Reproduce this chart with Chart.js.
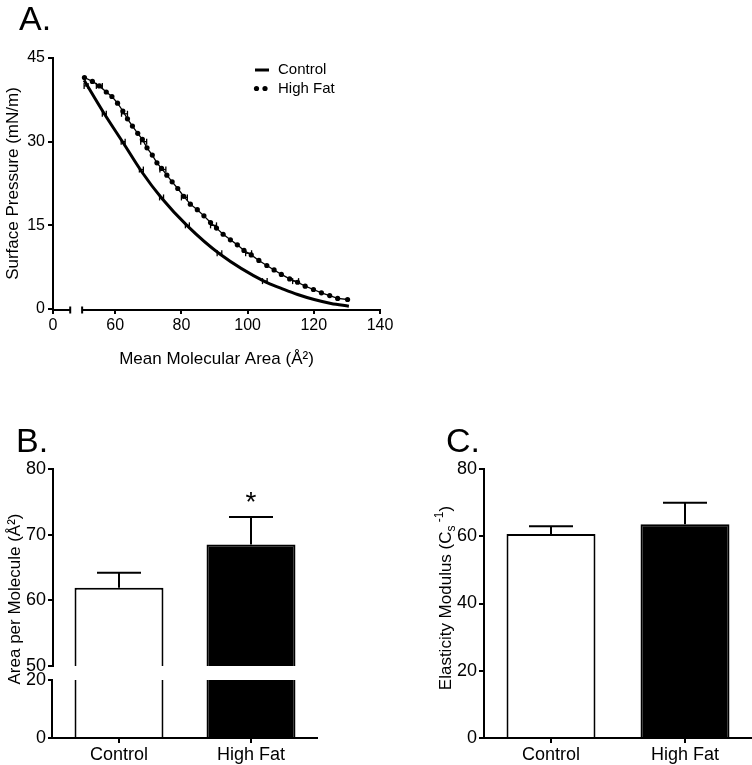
<!DOCTYPE html>
<html>
<head>
<meta charset="utf-8">
<script src="https://cdn.jsdelivr.net/npm/chart.js@4"></script>
<style>
    body { margin: 0; background: #fff; }
    canvas { position: absolute; }
</style>
</head>
<body>
<canvas id="chartA" width="400" height="380" style="left:0;top:0"></canvas>
<canvas id="chartB" width="376" height="385" style="left:0;top:380px"></canvas>
<canvas id="chartC" width="376" height="385" style="left:376px;top:380px"></canvas>
<script>
const FONT = "'Liberation Sans', Arial, Helvetica, sans-serif"
Chart.defaults.font.family = FONT
Chart.defaults.color = '#000'

// ---------- A. isotherms ----------
const aXTickLabels = [0, 60, 80, 100, 120, 140]
const aYTicks = [0, 15, 30, 45]
// broken x axis: a short stub that holds the 0, then 50..140
const aZeroAt = 41.2
const aStubEnd = 46.4
const aResume = 50

const controlArea = [50.6, 56.7, 62.4, 67.9, 74.0, 81.8, 91.5, 105.2, 110.2, 115.1, 120.1, 125.2, 130.6]
const controlPressure = [41.0, 35.0, 29.8, 24.7, 19.9, 14.9, 9.9, 4.9, 3.7, 2.6, 1.7, 1.0, 0.5]

const highFatArea = [50.7, 53.1, 55.2, 57.3, 59.0, 60.7, 62.3, 63.7, 65.2, 66.8, 68.2, 69.6, 71.2, 72.6, 74.0,
    75.6, 77.2, 78.9, 80.7, 82.7, 84.8, 86.8, 88.8, 90.6, 92.6, 94.8, 96.9, 98.9, 101.1, 103.4,
    105.8, 108.0, 110.2, 112.7, 115.1, 117.4, 119.9, 122.3, 124.8, 127.2, 130.2]
const highFatPressure = [41.5, 40.8, 40.0, 38.9, 38.1, 36.9, 35.5, 34.1, 32.8, 31.5, 30.4, 28.9, 27.6, 26.2, 25.2,
    24.0, 22.8, 21.6, 20.2, 18.8, 17.8, 16.7, 15.5, 14.5, 13.4, 12.4, 11.5, 10.5, 9.7, 8.7,
    7.8, 7.0, 6.2, 5.4, 4.8, 4.1, 3.5, 2.9, 2.4, 1.9, 1.7]

// horizontal error bars (area ± SEM) at fixed pressures
const errPressure = [40, 35, 30, 25, 20, 15, 10, 5]
const controlErrArea = [51.2, 56.7, 62.4, 67.9, 74.0, 81.8, 91.5, 105.2]
const controlErrSem = [0.6, 0.6, 0.6, 0.6, 0.6, 0.6, 0.7, 0.7]
const highFatErrArea = [55.2, 62.8, 68.6, 74.4, 80.9, 89.7, 100.3, 114.5]
const highFatErrSem = [0.9, 0.9, 0.9, 0.9, 0.9, 0.9, 0.9, 0.9]

// ---------- B. / C. bars ----------
const groups = ['Control', 'High Fat']
const barFills = ['#ffffff', '#000000']
const areaMeans = [61.9, 68.5]
const areaSem = [2.3, 4.2]
const areaTicksTop = [50, 60, 70, 80]
const areaTicksBottom = [0, 20]
const areaBreakLow = 20
const elasticMeans = [60.7, 63.6]
const elasticSem = [2.3, 6.4]
const elasticTicks = [0, 20, 40, 60, 80]

function line(ctx, x1, y1, x2, y2) {
    ctx.beginPath()
    ctx.moveTo(x1, y1)
    ctx.lineTo(x2, y2)
    ctx.stroke()
}

// rotated text made of pieces (for sub/superscripts)
function drawVertical(ctx, cx, cy, parts) {
    ctx.save()
    ctx.translate(cx, cy)
    ctx.rotate(-Math.PI / 2)
    ctx.fillStyle = '#000'
    ctx.textAlign = 'left'
    ctx.textBaseline = 'alphabetic'
    let total = 0
    parts.forEach(p => {
        ctx.font = p.size + 'px ' + FONT
        p.w = ctx.measureText(p.text).width
        total += p.w
    })
    let x = -total / 2
    parts.forEach(p => {
        ctx.font = p.size + 'px ' + FONT
        ctx.fillText(p.text, x, p.shift)
        x += p.w
    })
    ctx.restore()
}

function panelLetter(ctx, text, x, y) {
    ctx.save()
    ctx.font = '34px ' + FONT
    ctx.fillStyle = '#000'
    ctx.textAlign = 'left'
    ctx.textBaseline = 'alphabetic'
    ctx.fillText(text, x, y)
    ctx.restore()
}

const blackGrid = { drawOnChartArea: false, tickLength: 5, lineWidth: 2, color: '#000' }
const blackBorder = { color: '#000', width: 2 }

// ----- chart A -----
const panelAExtras = {
    id: 'panelAExtras',
    afterDraw(chart) {
        const { ctx } = chart
        const x = chart.scales.x
        const y = chart.scales.y
        const yb = y.getPixelForValue(0) + 1
        ctx.save()
        ctx.strokeStyle = '#000'
        ctx.lineWidth = 2
        line(ctx, x.getPixelForValue(aZeroAt) - 1, yb, x.getPixelForValue(aStubEnd), yb)
        line(ctx, x.getPixelForValue(aResume), yb, x.getPixelForValue(140), yb)
        ;[aStubEnd, aResume].forEach(v => {
            const px = x.getPixelForValue(v)
            line(ctx, px, yb - 3.5, px, yb + 3.5)
        })

        // error bars
        ctx.lineWidth = 1.3
        const drawErr = (areas, sems) => {
            areas.forEach((a, i) => {
                const py = y.getPixelForValue(errPressure[i])
                const x1 = x.getPixelForValue(a - sems[i])
                const x2 = x.getPixelForValue(a + sems[i])
                line(ctx, x1, py, x2, py)
                line(ctx, x1, py - 3, x1, py + 3)
                line(ctx, x2, py - 3, x2, py + 3)
            })
        }
        drawErr(controlErrArea, controlErrSem)
        drawErr(highFatErrArea, highFatErrSem)

        // legend
        ctx.lineWidth = 3
        line(ctx, 255, 70, 269, 70)
        ctx.fillStyle = '#000'
        ;[256.5, 265].forEach(cx => {
            ctx.beginPath()
            ctx.arc(cx, 88.5, 2.6, 0, Math.PI * 2)
            ctx.fill()
        })
        ctx.font = '15px ' + FONT
        ctx.textBaseline = 'middle'
        ctx.fillText('Control', 278, 70)
        ctx.fillText('High Fat', 278, 88.5)
        ctx.restore()

        panelLetter(ctx, 'A.', 19, 30)
    }
}

new Chart(document.querySelector('#chartA'), {
    type: 'scatter',
    data: {
        datasets: [{
            label: 'Control',
            data: controlArea.map((a, i) => ({ x: a, y: controlPressure[i] })),
            showLine: true,
            borderColor: '#000',
            borderWidth: 3,
            pointRadius: 0,
            cubicInterpolationMode: 'monotone'
        }, {
            label: 'High Fat',
            data: highFatArea.map((a, i) => ({ x: a, y: highFatPressure[i] })),
            showLine: true,
            borderColor: '#000',
            borderWidth: 1.3,
            backgroundColor: '#000',
            pointRadius: 2.6,
            pointBorderWidth: 0,
            pointBackgroundColor: '#000'
        }]
    },
    options: {
        responsive: false,
        animation: false,
        events: [],
        layout: { padding: { left: 0, top: 58, right: 20, bottom: 0 } },
        plugins: { legend: { display: false }, tooltip: { enabled: false } },
        scales: {
            x: {
                type: 'linear',
                min: aZeroAt,
                max: 140,
                afterBuildTicks: s => { s.ticks = aXTickLabels.map(v => ({ value: v === 0 ? aZeroAt : v })) },
                afterFit: s => { s.height = 71 },
                ticks: { font: { size: 16 }, padding: 2, callback: v => v === aZeroAt ? '0' : v },
                grid: blackGrid,
                border: { display: false },
                title: { display: true, text: 'Mean Molecular Area (Å²)', font: { size: 17 }, padding: { bottom: 10 } }
            },
            y: {
                type: 'linear',
                min: 0,
                max: 45,
                afterBuildTicks: s => { s.ticks = aYTicks.map(v => ({ value: v })) },
                afterFit: s => { s.width = 53 },
                ticks: { font: { size: 16 }, padding: 3 },
                grid: blackGrid,
                border: blackBorder,
                title: { display: true, text: 'Surface Pressure (mN/m)', font: { size: 17 }, padding: { top: 3 } }
            }
        }
    },
    plugins: [panelAExtras]
})

// error bars on top of bars, only the upper arm
function drawBarErrors(chart, scaleId, means, sems, capHalf) {
    const { ctx } = chart
    const scale = chart.scales[scaleId]
    const meta = chart.getDatasetMeta(0)
    ctx.save()
    ctx.strokeStyle = '#000'
    ctx.lineWidth = 2
    meta.data.forEach((bar, i) => {
        const top = scale.getPixelForValue(means[i] + sems[i])
        line(ctx, bar.x, bar.y, bar.x, top)
        line(ctx, bar.x - capHalf, top, bar.x + capHalf, top)
    })
    ctx.restore()
}

// ----- chart B -----
const panelBExtras = {
    id: 'panelBExtras',
    afterDraw(chart) {
        const { ctx } = chart
        const yBot = chart.scales.yBot
        ctx.save()
        ctx.strokeStyle = '#000'
        ctx.lineWidth = 2
        const ax = chart.scales.yTop.right - 1
        line(ctx, ax, yBot.getPixelForValue(0) + 1, ax, yBot.getPixelForValue(areaBreakLow))
        ctx.restore()

        drawBarErrors(chart, 'yTop', areaMeans, areaSem, 22)

        // significance star over High Fat
        const hf = chart.getDatasetMeta(0).data[1]
        ctx.save()
        ctx.font = '28px ' + FONT
        ctx.textAlign = 'center'
        ctx.textBaseline = 'alphabetic'
        ctx.fillStyle = '#000'
        ctx.fillText('*', hf.x, 131)
        ctx.restore()

        drawVertical(ctx, 14, 219, [{ text: 'Area per Molecule (Å²)', size: 17, shift: 6 }])
        panelLetter(ctx, 'B.', 16, 72)
    }
}

const barCommon = {
    backgroundColor: barFills,
    borderColor: '#000',
    grouped: false,
    categoryPercentage: 1,
    borderSkipped: false
}

new Chart(document.querySelector('#chartB'), {
    type: 'bar',
    data: {
        labels: groups,
        datasets: [{
            ...barCommon,
            label: 'upper',
            data: areaMeans,
            yAxisID: 'yTop',
            barPercentage: 0.674,
            borderWidth: { top: 2, left: 2, right: 2, bottom: 0 }
        }, {
            ...barCommon,
            label: 'lower',
            data: areaMeans.map(v => Math.min(v, areaBreakLow)),
            yAxisID: 'yBot',
            barPercentage: 0.674,
            borderWidth: { top: 0, left: 2, right: 2, bottom: 0 }
        }]
    },
    options: {
        responsive: false,
        animation: false,
        events: [],
        layout: { padding: { left: 0, top: 89, right: 59, bottom: 0 } },
        plugins: { legend: { display: false }, tooltip: { enabled: false } },
        scales: {
            x: {
                type: 'category',
                offset: true,
                afterFit: s => { s.height = 27 },
                ticks: { font: { size: 18 }, padding: 1 },
                grid: { ...blackGrid, offset: false },
                border: blackBorder
            },
            yBot: {
                type: 'linear',
                axis: 'y',
                position: 'left',
                stack: 'area',
                stackWeight: 72,
                min: 0,
                max: 24.8,
                afterBuildTicks: s => { s.ticks = areaTicksBottom.map(v => ({ value: v })) },
                afterFit: s => { s.width = 53 },
                ticks: { font: { size: 18 }, padding: 2, autoSkip: false },
                grid: blackGrid,
                border: { display: false }
            },
            yTop: {
                type: 'linear',
                axis: 'y',
                position: 'left',
                stack: 'area',
                stackWeight: 197,
                min: 50,
                max: 80,
                afterBuildTicks: s => { s.ticks = areaTicksTop.map(v => ({ value: v })) },
                afterFit: s => { s.width = 53 },
                ticks: { font: { size: 18 }, padding: 2, autoSkip: false },
                grid: blackGrid,
                border: blackBorder
            }
        }
    },
    plugins: [panelBExtras]
})

// ----- chart C -----
const panelCExtras = {
    id: 'panelCExtras',
    afterDraw(chart) {
        const { ctx } = chart
        drawBarErrors(chart, 'y', elasticMeans, elasticSem, 22)
        drawVertical(ctx, 69, 218, [
            { text: 'Elasticity Modulus (C', size: 17, shift: 6 },
            { text: 's', size: 12, shift: 10 },
            { text: ' -1', size: 12, shift: -2 },
            { text: ')', size: 17, shift: 6 }
        ])
        panelLetter(ctx, 'C.', 70, 72)
    }
}

new Chart(document.querySelector('#chartC'), {
    type: 'bar',
    data: {
        labels: groups,
        datasets: [{
            ...barCommon,
            label: 'Elasticity',
            data: elasticMeans,
            barPercentage: 0.664,
            borderWidth: { top: 2, left: 2, right: 2, bottom: 0 }
        }]
    },
    options: {
        responsive: false,
        animation: false,
        events: [],
        layout: { padding: { left: 0, top: 89, right: 0, bottom: 0 } },
        plugins: { legend: { display: false }, tooltip: { enabled: false } },
        scales: {
            x: {
                type: 'category',
                offset: true,
                afterFit: s => { s.height = 27 },
                ticks: { font: { size: 18 }, padding: 1 },
                grid: { ...blackGrid, offset: false },
                border: blackBorder
            },
            y: {
                type: 'linear',
                min: 0,
                max: 80,
                afterBuildTicks: s => { s.ticks = elasticTicks.map(v => ({ value: v })) },
                afterFit: s => { s.width = 108 },
                ticks: { font: { size: 18 }, padding: 2 },
                grid: blackGrid,
                border: blackBorder
            }
        }
    },
    plugins: [panelCExtras]
})
</script>
</body>
</html>
